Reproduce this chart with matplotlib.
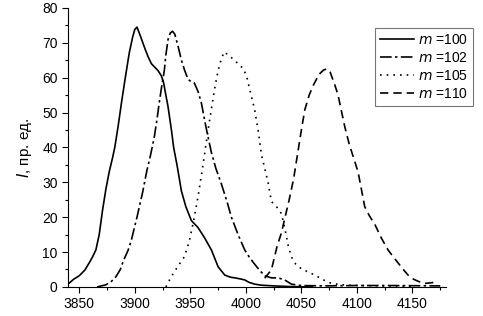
import numpy as np
import matplotlib.pyplot as plt
from matplotlib.ticker import MultipleLocator

plt.rcParams['font.family'] = ['Liberation Sans', 'DejaVu Sans']
plt.rcParams['font.size'] = 10

# m = 100 (solid)
x100 = [3841, 3845, 3850, 3855, 3859, 3862, 3865, 3868, 3871, 3874, 3877, 3880,
        3882, 3885, 3888, 3891, 3895, 3898, 3900, 3902, 3905, 3908.6, 3912, 3915,
        3918, 3921, 3924, 3926, 3928, 3930, 3933, 3935, 3938, 3942, 3946, 3951,
        3957, 3963, 3969, 3975, 3981, 3986, 3990, 3995, 3999, 4003, 4008, 4014,
        4025, 4040, 4060]
y100 = [1.1, 2.2, 3.2, 4.8, 6.9, 8.6, 10.6, 15, 22, 28, 33, 37,
        40, 46, 52.7, 59, 67, 71.5, 73.8, 74.5, 72, 68.8, 66, 64,
        63, 62, 60.5, 58.5, 55, 51.6, 45, 40, 35, 27.5, 23, 19,
        17, 14, 10.6, 5.8, 3.4, 2.8, 2.6, 2.3, 2, 1.3, 0.8, 0.5,
        0.3, 0.1, 0]

# m = 102 (dash-dot)
x102 = [3866, 3874, 3879, 3883, 3887, 3890, 3894, 3897, 3902, 3907, 3911, 3914,
        3917.6, 3920, 3922, 3924, 3926.6, 3928, 3930, 3932, 3934, 3936, 3939, 3942,
        3945, 3948, 3951, 3953.6, 3957, 3960, 3964, 3969, 3973, 3978, 3983, 3987,
        3993, 3999, 4003, 4007, 4012, 4017, 4023, 4029, 4035, 4041, 4050, 4070,
        4100, 4130, 4175]
y102 = [0, 0.6, 1.6, 2.9, 5, 7.7, 10.5, 13.5, 20, 27, 33.5, 37.5,
        43, 48, 52.7, 57, 62, 66.5, 71, 72.8, 73.3, 72.5, 69, 65,
        62, 59.5, 58.8, 58.5, 56, 52.7, 46, 38.5, 34, 29.5, 24.5, 20,
        15, 10.6, 8.6, 6.9, 4.9, 3.2, 2.6, 2.6, 2, 0.8, 0.4, 0.3,
        0.4, 0.4, 0.3]

# m = 105 (dotted)
x105 = [3928, 3933, 3939, 3944.6, 3949, 3953, 3957, 3960, 3963, 3966, 3969,
        3972, 3975, 3978, 3980.6, 3984, 3988, 3993, 3998, 4001, 4004, 4008, 4011,
        4014, 4017, 4020, 4023, 4026, 4029, 4032, 4035, 4038, 4041, 4045, 4050,
        4056, 4062, 4070, 4077, 4090, 4120, 4150]
y105 = [0, 3, 6, 8.6, 13, 19, 26, 32, 38.4, 45, 51, 57, 62, 65.5, 67.4, 66.5,
        65.5, 64, 62.5, 60, 56, 50.7, 45, 38, 34, 30, 24.5, 23.5, 22.5, 21, 17,
        12, 8.6, 6.5, 5.2, 4.3, 3.4, 2, 1, 0.5, 0.3, 0.2]

# m = 110 (dashed)
x110 = [4017, 4023, 4028, 4032, 4039, 4043, 4047, 4050, 4053, 4057, 4061, 4066,
        4070, 4073, 4076, 4080, 4083, 4086, 4089, 4093, 4097, 4101, 4104, 4107,
        4111, 4116, 4122, 4128, 4133, 4137, 4142, 4146, 4151, 4156, 4161, 4167,
        4173]
y110 = [2.5, 4.9, 11.5, 15.5, 25, 31, 39, 45, 50.7, 55, 58, 61, 62.2, 62.5,
        61.5, 58, 55, 50.5, 46, 41, 37, 33, 28, 23, 20.5, 18, 14, 10.6, 8.5,
        6.9, 4.9, 3.4, 2.2, 1.5, 1, 1.2, 1.5]

fig = plt.figure(figsize=(4.83, 3.16), dpi=100)
ax = fig.add_axes([0.141, 0.092, 0.782, 0.883])

ax.plot(x100, y100, color='black', lw=1.2, ls='-', label='$m$ =100')
ax.plot(x102, y102, color='black', lw=1.2, ls=(0, (7, 2, 1.5, 2)), label='$m$ =102')
ax.plot(x105, y105, color='black', lw=1.2, ls=(0, (1, 3)), label='$m$ =105')
ax.plot(x110, y110, color='black', lw=1.2, ls=(0, (5, 3)), label='$m$ =110')

ax.set_xlim(3840, 4180)
ax.set_ylim(0, 80)
ax.xaxis.set_major_locator(MultipleLocator(50))
ax.xaxis.set_minor_locator(MultipleLocator(25))
ax.yaxis.set_major_locator(MultipleLocator(10))
ax.yaxis.set_minor_locator(MultipleLocator(5))
ax.tick_params(which='major', direction='out', length=4, width=0.8, labelsize=10)
ax.tick_params(which='minor', direction='out', length=2.5, width=0.8)
for s in ['top', 'right']:
    ax.spines[s].set_visible(False)

ax.set_ylabel('$I$, пр. ед.', fontsize=11, labelpad=6)

leg = ax.legend(loc='upper right', bbox_to_anchor=(1.071, 0.928), fontsize=10,
                frameon=True, fancybox=False, edgecolor='#555555',
                handlelength=2.4, handletextpad=0.3, borderpad=0.35,
                labelspacing=0.3, borderaxespad=0)
leg.get_frame().set_linewidth(0.8)

fig.savefig('out.png', dpi=100)
